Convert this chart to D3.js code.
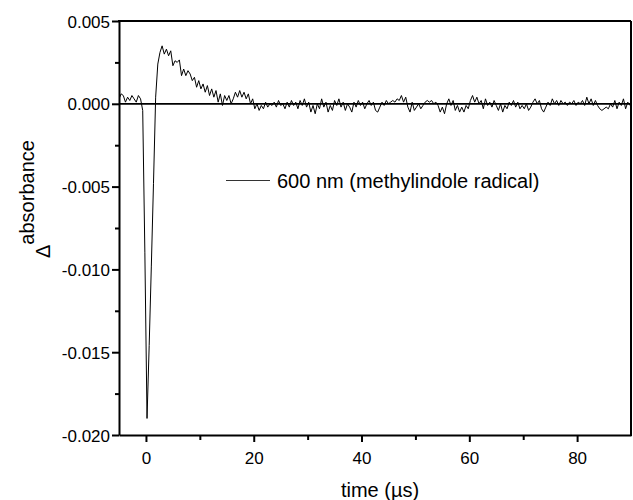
<!DOCTYPE html>
<html>
<head>
<meta charset="utf-8">
<script src="https://cdn.jsdelivr.net/npm/d3@7"></script>
<style>
  html, body { margin: 0; padding: 0; background: #fff; }
  svg { display: block; font-family: "Liberation Sans", Arial, Helvetica, sans-serif; }
</style>
</head>
<body>
<svg id="chart" width="633" height="500"></svg>
<script>
// ---- Data (absorbance change in units of 0.001) ----
const sampleStart = -5.0;   // µs, first sample time
const sampleStep = 0.4;     // µs between samples
const absorbance_mOD = [
  0.3, 0.6, 0.5, 0.1, 0.4, 0.2, 0.5, 0.3, 0.1, 0.5, 0.3, -0.4,
  -9.0, -19.0, -14.6, -9.8, -4.8, 0.4, 2.4, 3.1, 3.5,
  3.0, 3.3, 2.9, 3.2, 2.3, 2.6, 2.5, 2.65, 1.7, 2.1,
  1.7, 2.0, 1.8, 1.4, 1.6, 1.0, 1.4, 0.9, 1.2, 0.7,
  1.1, 0.5, 0.9, 0.4, 0.8, 0.1, 0.6, -0.1, 0.5, 0.2,
  0.5, 0.0, 0.3, 0.7, 0.4, 0.8, 0.4, 0.7, 0.3, 0.6,
  0.0, 0.3, -0.3, 0.0, -0.4, -0.1, -0.3, 0.1, -0.2, 0.0,
  -0.1, 0.1, -0.2, 0.2, -0.1, 0.0, -0.3, 0.1, -0.2, 0.2,
  -0.1, 0.1, -0.3, 0.2, -0.1, 0.3, -0.2, 0.1, -0.5, -0.1,
  -0.6, 0.0, -0.3, 0.3, -0.2, 0.1, -0.5, -0.1, -0.4, 0.2,
  -0.1, 0.3, -0.2, 0.1, -0.4, 0.0, -0.2, -0.5, 0.1, -0.2,
  0.2, -0.1, 0.1, -0.3, 0.0, 0.2, -0.1, 0.1, -0.4, -0.5,
  -0.2, 0.1, -0.1, 0.2, 0.0, 0.1, 0.2, 0.1, 0.3, 0.2,
  0.5, 0.1, 0.4, -0.2, -0.5, 0.1, -0.4, -0.2, 0.0, -0.3,
  -0.1, 0.1, 0.2, 0.1, 0.2, 0.0, 0.1, -0.1, -0.5, -0.2,
  -0.6, 0.0, 0.3, -0.1, 0.2, -0.4, -0.1, -0.5, -0.2, -0.5,
  -0.1, -0.3, 0.2, 0.5, 0.1, 0.4, 0.0, 0.2, -0.3, 0.3,
  -0.1, 0.1, -0.2, 0.2, -0.1, -0.4, 0.0, -0.5, -0.1, -0.3,
  0.1, -0.1, 0.2, -0.2, 0.1, -0.3, -0.1, -0.3, 0.0, -0.4,
  -0.2, 0.1, 0.3, 0.0, 0.2, -0.3, -0.5, -0.2, 0.1, -0.1,
  0.3, 0.0, 0.2, -0.1, 0.2, 0.0, 0.1, -0.1, 0.1, 0.0,
  0.2, -0.1, 0.1, 0.0, 0.2, -0.1, 0.4, 0.0, 0.3, -0.1,
  0.2, -0.1, -0.3, -0.4, -0.3, -0.2, -0.3, 0.0, -0.2, 0.2,
  -0.3, 0.1, -0.1, 0.3, -0.3, 0.1, -0.1
];

const xTicks = [0, 20, 40, 60, 80];
const xMinorTicks = [10, 30, 50, 70];
const yTicks = [5, 0, -5, -10, -15, -20];
const yTickLabels = ["0.005", "0.000", "-0.005", "-0.010", "-0.015", "-0.020"];
const yMinorTicks = [2.5, -2.5, -7.5, -12.5, -17.5];
const legendLabel = "600 nm (methylindole radical)";
const xTitle = "time (\u00b5s)";
const yTitleSymbol = "\u0394";
const yTitleWord = "absorbance";

// ---- Layout ----
const svg = d3.select("#chart");
const plotLeft = 119, plotRight = 631, plotTop = 21, plotBottom = 435;

const x = d3.scaleLinear().domain([-5, 90]).range([plotLeft, plotRight]);
const y = d3.scaleLinear().domain([-20, 5]).range([plotBottom, plotTop]);

const points = absorbance_mOD.map((v, i) => ({ t: sampleStart + i * sampleStep, v }));

svg.append("defs").append("clipPath").attr("id", "plotclip")
  .append("rect").attr("x", plotLeft).attr("y", plotTop)
  .attr("width", plotRight - plotLeft).attr("height", plotBottom - plotTop);

// zero line
svg.append("line")
  .attr("x1", plotLeft).attr("x2", plotRight)
  .attr("y1", y(0)).attr("y2", y(0))
  .attr("stroke", "#000").attr("stroke-width", 1.8);

// trace
const line = d3.line().x(d => x(d.t)).y(d => y(d.v));
svg.append("path")
  .datum(points)
  .attr("clip-path", "url(#plotclip)")
  .attr("fill", "none")
  .attr("stroke", "#000")
  .attr("stroke-width", 1)
  .attr("d", line);

// axes
const fontSize = "17px";
const xAxis = d3.axisBottom(x).tickValues(xTicks).tickSize(7).tickSizeOuter(0).tickPadding(10).tickFormat(d3.format("d"));
const gx = svg.append("g").attr("transform", `translate(0,${plotBottom})`).call(xAxis);
const xMinor = d3.axisBottom(x).tickValues(xMinorTicks).tickSize(5).tickSizeOuter(0).tickFormat("");
const gxm = svg.append("g").attr("transform", `translate(0,${plotBottom})`).call(xMinor);
gxm.select(".domain").remove();

const yAxis = d3.axisLeft(y).tickValues(yTicks).tickSize(7).tickSizeOuter(0).tickPadding(2)
  .tickFormat((d, i) => yTickLabels[i]);
const gy = svg.append("g").attr("transform", `translate(${plotLeft},0)`).call(yAxis);
const yMinor = d3.axisLeft(y).tickValues(yMinorTicks).tickSize(4).tickSizeOuter(0).tickFormat("");
const gym = svg.append("g").attr("transform", `translate(${plotLeft},0)`).call(yMinor);
gym.select(".domain").remove();

[gx, gxm, gy, gym].forEach(g => {
  g.selectAll("path, line").attr("stroke", "#000").attr("stroke-width", 2);
  g.selectAll("text").attr("fill", "#000").style("font-size", fontSize)
    .style("font-family", '"Liberation Sans", Arial, sans-serif');
});
gy.selectAll("text").attr("dy", "0.36em");

// frame top & right
svg.append("line").attr("x1", plotLeft - 1).attr("x2", plotRight).attr("y1", plotTop).attr("y2", plotTop)
  .attr("stroke", "#000").attr("stroke-width", 2);
svg.append("line").attr("x1", plotRight).attr("x2", plotRight).attr("y1", plotTop).attr("y2", plotBottom + 1)
  .attr("stroke", "#000").attr("stroke-width", 2);

// axis titles
svg.append("text")
  .attr("x", 380).attr("y", 497)
  .attr("text-anchor", "middle")
  .style("font-size", "20px")
  .text(xTitle);

const yt = svg.append("text")
  .attr("transform", "translate(50,258) rotate(-90)")
  .style("font-size", "20px");
yt.append("tspan").text(yTitleSymbol);
yt.append("tspan").attr("dy", -16).text(yTitleWord);

// legend
svg.append("line")
  .attr("x1", 226).attr("x2", 270).attr("y1", 180.5).attr("y2", 180.5)
  .attr("stroke", "#333").attr("stroke-width", 1);
svg.append("text")
  .attr("x", 277).attr("y", 188)
  .style("font-size", "20px")
  .text(legendLabel);
</script>
</body>
</html>
